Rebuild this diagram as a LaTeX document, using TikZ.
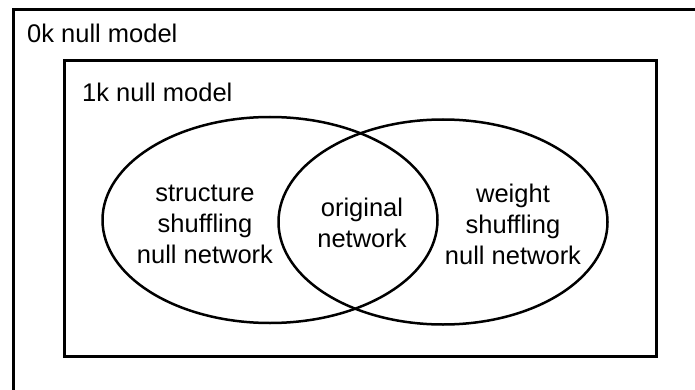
\documentclass[tikz,border=0pt]{standalone}
\usepackage{fontspec}
\setmainfont{Liberation Sans}
\usetikzlibrary{shapes.geometric}
\tikzset{frame/.style={line width=3pt},
 nullset/.style={draw,ellipse,line width=2.5pt,minimum width=335pt,minimum height=206pt},
 lbl/.style={inner sep=0pt,align=center,font=\fontsize{25.5pt}{31pt}\selectfont}}
\begin{document}
\begin{tikzpicture}[x=1pt,y=-1pt]
 \useasboundingbox (0,0) rectangle (695,390);
 \clip (0,0) rectangle (695,390);
 % model boxes
 \draw[frame](13,10) rectangle (720,420);
 \draw[frame](64,61) rectangle (656,356);
 \node[lbl,anchor=west] (zeromodel) at (27,33) {0k null model};
 \node[lbl,anchor=west] (onemodel) at (82,92) {1k null model};
 % the two sets
 \node[nullset] (structset) at (270,220) {};
 \node[nullset,minimum width=329pt,minimum height=205pt] (weightset) at (443,222) {};
 \node[lbl] (structtxt) at (205,224) {structure\\shuffling\\null network};
 \node[lbl] (origtxt) at (362,223) {original\\network};
 \node[lbl] (weighttxt) at (513,224) {weight\\shuffling\\null network};
\end{tikzpicture}
\end{document}
